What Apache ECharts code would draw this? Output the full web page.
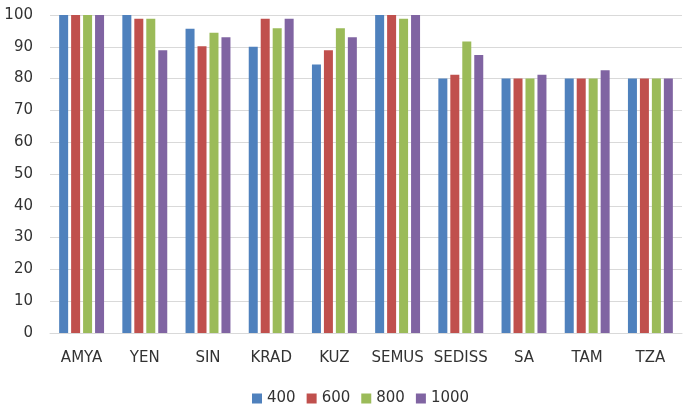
<!DOCTYPE html>
<html><head><meta charset="utf-8">
<script src="https://cdn.jsdelivr.net/npm/echarts@6/dist/echarts.min.js"></script>
<style>html,body{margin:0;padding:0;background:#fff}#c{width:685px;height:407px}</style>
</head><body><div id="c"></div>
<script>
const categories = ['AMYA','YEN','SIN','KRAD','KUZ','SEMUS','SEDISS','SA','TAM','TZA'];
const seriesNames = ['400','600','800','1000'];
const s400  = [100, 100, 95.7, 90.0, 84.4, 100, 80.0, 80.0, 80.0, 80.0];
const s600  = [100, 98.8, 90.2, 98.8, 88.9, 100, 81.2, 80.0, 80.0, 80.0];
const s800  = [100, 98.8, 94.4, 95.8, 95.8, 98.8, 91.7, 80.0, 80.0, 80.0];
const s1000 = [100, 88.9, 93.0, 98.8, 93.0, 100, 87.4, 81.2, 82.6, 80.0];
const colors = ['#4F81BD','#C0504D','#9BBB59','#8064A2'];
const yTicks = {min:0, max:100, interval:10};

const font = 'DejaVu Sans';
const chart = echarts.init(document.getElementById('c'));
const data = [s400, s600, s800, s1000];
chart.setOption({
  animation:false,
  color: colors,
  grid:{left:50, right:3, top:15, bottom:74, containLabel:false},
  legend:{
    top:386, left:247, itemWidth:10, itemHeight:10, itemGap:11,
    icon:'rect',
    textStyle:{fontFamily:font, fontSize:15, color:'#333333'},
    data: seriesNames
  },
  xAxis:{
    type:'category', data:categories,
    axisLine:{lineStyle:{color:'#d9d9d9'}},
    axisTick:{show:false},
    axisLabel:{fontFamily:font, fontSize:15, color:'#333333', margin:18, interval:0}
  },
  yAxis:{
    type:'value', min:yTicks.min, max:yTicks.max, interval:yTicks.interval,
    axisLine:{show:false}, axisTick:{show:false},
    splitLine:{lineStyle:{color:'#d9d9d9'}},
    axisLabel:{fontFamily:font, fontSize:15, color:'#333333', margin:17}
  },
  series: seriesNames.map((n,i)=>({
    name:n, type:'bar', data:data[i], barWidth:9, barGap:'33%', barCategoryGap:'29%'
  }))
});
</script></body></html>
